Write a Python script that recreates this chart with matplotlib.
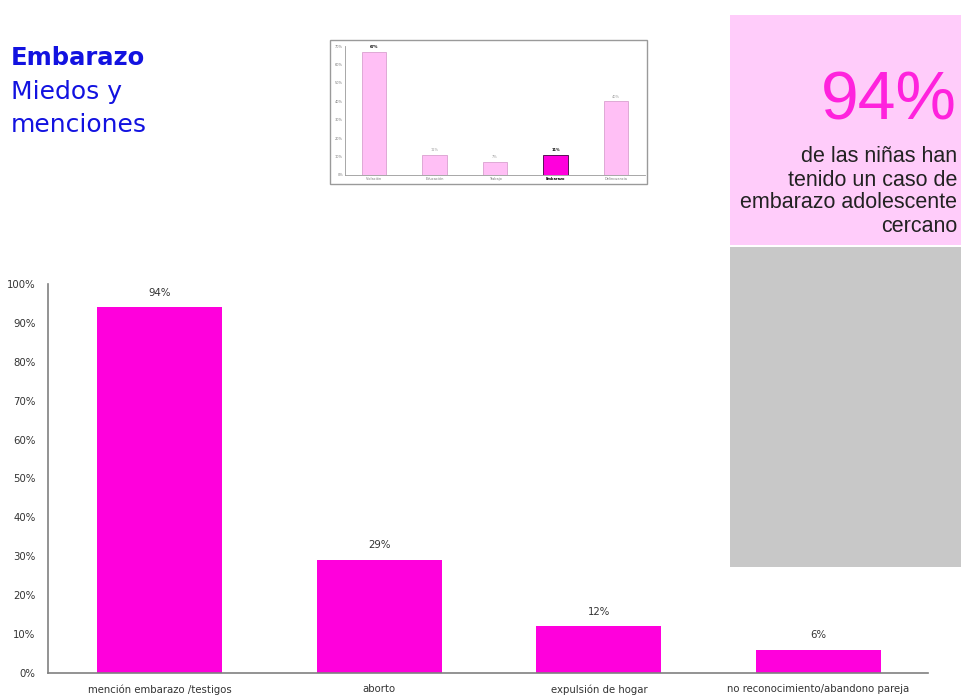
import matplotlib
matplotlib.use("Agg")
import matplotlib.pyplot as plt
from matplotlib.patches import Rectangle
from matplotlib.ticker import PercentFormatter

# main chart data
categories = ["mención embarazo /testigos", "aborto", "expulsión de hogar",
              "no reconocimiento/abandono pareja"]
values = [94, 29, 12, 6]
value_labels = ["94%", "29%", "12%", "6%"]
yticks = [0, 10, 20, 30, 40, 50, 60, 70, 80, 90, 100]

# thumbnail chart data
thumb_categories = ["Violación", "Educación", "Trabajo", "Embarazo", "Delincuencia"]
thumb_values = [67, 11, 7, 11, 40]
thumb_labels = ["67%", "11%", "7%", "11%", "40%"]
thumb_yticks = [0, 10, 20, 30, 40, 50, 60, 70]

W, H = 961, 695
fig = plt.figure(figsize=(W / 100, H / 100), dpi=100)
fig.patch.set_facecolor("white")

def fx(px):
    return px / W

def fy(py):
    return 1 - py / H

MAG = "#ff00dc"
ARIAL = ["Liberation Sans", "DejaVu Sans"]

# ---- main axes ----
ax = fig.add_axes([fx(48), fy(673), fx(928) - fx(48), fy(284) - fy(673)])
x = list(range(len(categories)))
ax.bar(x, values, width=0.57, color=MAG, zorder=2)
ax.set_xlim(-0.51, 3.5)
ax.set_ylim(0, 100)
ax.set_yticks(yticks)
ax.yaxis.set_major_formatter(PercentFormatter(decimals=0))
ax.set_xticks(x)
ax.set_xticklabels(categories)
ax.tick_params(axis="both", length=0, labelsize=7.3, labelcolor="#333333")
ax.tick_params(axis="x", pad=8)
ax.tick_params(axis="y", pad=9)
for s in ["top", "right"]:
    ax.spines[s].set_visible(False)
for s in ["left", "bottom"]:
    ax.spines[s].set_color("#808080")
    ax.spines[s].set_linewidth(1.2)
for xi, v, lab in zip(x, values, value_labels):
    ax.annotate(lab, (xi, v), xytext=(0, 7), textcoords="offset points",
                ha="center", va="bottom", fontsize=7.3, color="#333333")

# ---- title ----
BLUE = "#1212e0"
fig.text(fx(11), fy(58), "Embarazo", fontsize=17.5, fontweight="bold",
         color=BLUE, family="DejaVu Sans", va="center")
fig.text(fx(11), fy(92), "Miedos y", fontsize=18,
         color=BLUE, family="DejaVu Sans", va="center")
fig.text(fx(11), fy(125), "menciones", fontsize=18,
         color=BLUE, family="DejaVu Sans", va="center")

# ---- thumbnail ----
fig.add_artist(Rectangle((fx(330), fy(184)), fx(647) - fx(330), fy(40) - fy(184),
                         transform=fig.transFigure, facecolor="white",
                         edgecolor="#9a9a9a", linewidth=1.0, zorder=1))
tax = fig.add_axes([fx(345), fy(175), fx(645) - fx(345), fy(46) - fy(175)])
tax.set_zorder(3)
tx = list(range(len(thumb_categories)))
tcolors = ["#ffbff5", "#ffbff5", "#ffbff5", MAG, "#ffbff5"]
tedges = ["#d9a0d0", "#d9a0d0", "#d9a0d0", "#400040", "#d9a0d0"]
tax.bar(tx, thumb_values, width=0.41, color=tcolors, edgecolor=tedges, linewidth=0.6)
tax.set_xlim(-0.48, 4.48)
tax.set_ylim(0, 70)
tax.set_yticks(thumb_yticks)
tax.yaxis.set_major_formatter(PercentFormatter(decimals=0))
tax.set_xticks(tx)
tax.set_xticklabels(thumb_categories)
tax.tick_params(axis="both", length=0, labelsize=2.5, labelcolor="#777777", pad=1.5)
tax.get_xticklabels()[3].set_fontweight("bold")
tax.get_xticklabels()[3].set_color("#000000")
for s in ["top", "right"]:
    tax.spines[s].set_visible(False)
for s in ["left", "bottom"]:
    tax.spines[s].set_color("#999999")
    tax.spines[s].set_linewidth(0.6)
for xi, v, lab in zip(tx, thumb_values, thumb_labels):
    tax.annotate(lab, (xi, v), xytext=(0, 2), textcoords="offset points",
                 ha="center", va="bottom", fontsize=2.5,
                 color="#000000" if xi in (0, 3) else "#999999",
                 fontweight="bold" if xi in (0, 3) else "normal")

# ---- right boxes ----
ov = fig.add_axes([0, 0, 1, 1])
ov.set_zorder(10)
ov.set_xlim(0, W)
ov.set_ylim(H, 0)
ov.axis("off")
ov.patch.set_alpha(0)
ov.add_patch(Rectangle((730, 15), 240, 230, facecolor="#ffccfa", edgecolor="none"))
ov.add_patch(Rectangle((730, 247), 240, 320, facecolor="#c8c8c8", edgecolor="none"))
ov.text(957, 102, "94%", fontsize=49, color="#ff22dd", ha="right", va="center",
        family=ARIAL)
box_lines = ["de las niñas han", "tenido un caso de", "embarazo adolescente", "cercano"]
box_y = [157, 180, 203, 226]
for ln, yy in zip(box_lines, box_y):
    ov.text(957, yy, ln, fontsize=15.5, color="#222222", ha="right", va="center",
            family=ARIAL)

fig.savefig("out.png", dpi=100)
